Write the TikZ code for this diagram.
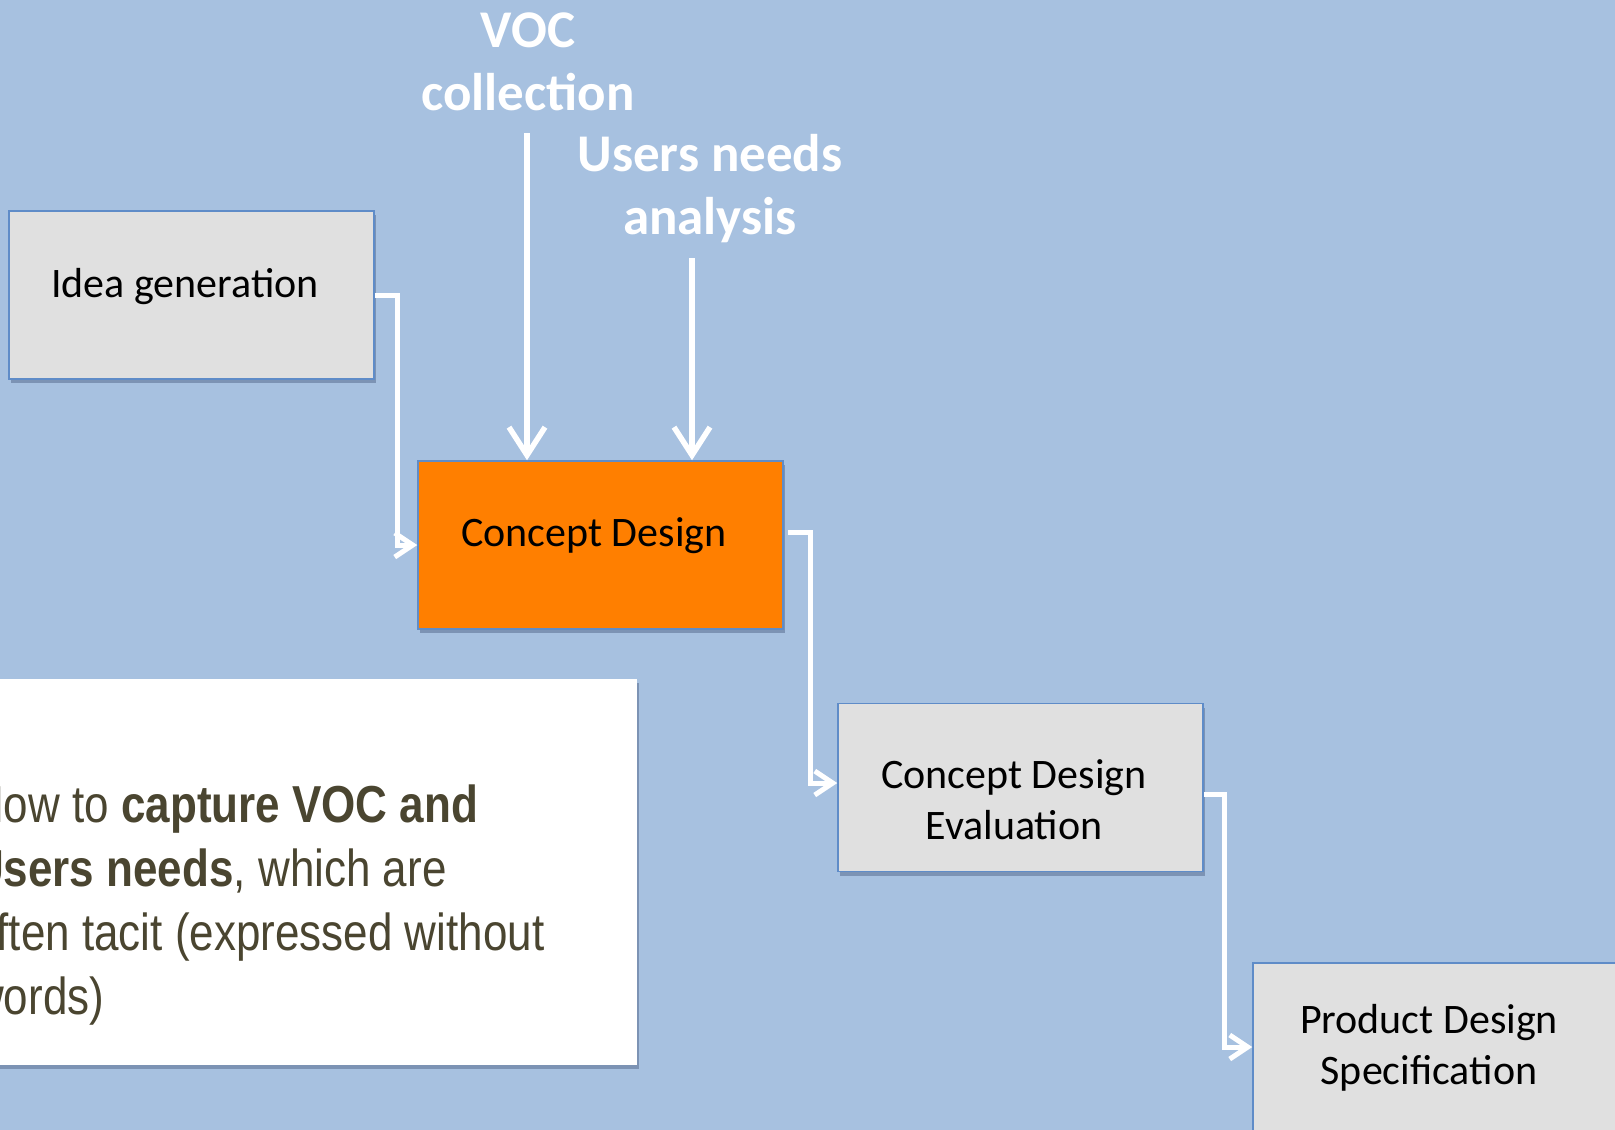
\documentclass[tikz,border=0pt]{standalone}
\usepackage{fontspec}
\setmainfont{Carlito}
\newfontfamily\narrowfont[FakeStretch=0.846]{Liberation Sans}
\usetikzlibrary{arrows.meta,shadows,calc}
\definecolor{bgblue}{RGB}{167,193,224}
\definecolor{boxgray}{RGB}{224,224,224}
\definecolor{boxline}{RGB}{95,140,200}
\definecolor{orangefill}{RGB}{255,127,0}
\definecolor{olivetext}{RGB}{74,69,48}
\definecolor{shadowblue}{RGB}{60,80,115}
\tikzset{
  stepbox/.style={draw=boxline, line width=1.5pt, minimum width=365pt, minimum height=168pt,
    inner sep=0pt, drop shadow={shadow xshift=1.5pt, shadow yshift=-4pt, opacity=0.4, fill=shadowblue}},
  graybox/.style={stepbox, fill=boxgray},
  orangebox/.style={stepbox, fill=orangefill},
  notebox/.style={fill=white, draw=none, minimum width=667pt, minimum height=386pt, inner sep=0pt,
    drop shadow={shadow xshift=1.5pt, shadow yshift=-4pt, opacity=0.4, fill=shadowblue}},
  boxtext/.style={font=\fontsize{42}{51}\selectfont, text=black, align=center, inner sep=0pt},
  headtext/.style={font=\fontsize{53}{63}\selectfont\bfseries, text=white, align=center, inner sep=0pt},
  notetext/.style={font=\narrowfont\fontsize{52}{64}\selectfont, text=olivetext, align=left, inner sep=0pt},
  conn/.style={draw=white, line width=5pt, -{Straight Barb[length=18pt,width=24pt]}},
  bigarrow/.style={draw=white, line width=5.5pt, -{Straight Barb[length=28pt,width=36pt]}}
}
\begin{document}
\begin{tikzpicture}[x=1pt,y=-1pt]
\useasboundingbox (0,0) rectangle (1615,1130);
\clip (0,0) rectangle (1615,1130);
\fill[bgblue] (0,0) rectangle (1615,1130);

% boxes
\node[graybox] (idea) at (191.5,295) {};
\node[orangebox] (cd) at (600.5,545) {};
\node[graybox] (eval) at (1020.5,787.5) {};
\node[graybox] (pds) at (1435.5,1047) {};
\node[notebox] (note) at (303.5,872) {};

% box texts
\node[boxtext] (ideatxt) at (185,287) {Idea generation};
\node[boxtext] (cdtxt) at (594,536) {Concept Design};
\node[boxtext] (evaltxt) at (1014,800) {Concept Design\\Evaluation};
\node[boxtext] (pdstxt) at (1429,1048) {Product Design\\Specification};

% headings
\node[headtext] (voc) at (528,61.5) {VOC\\collection};
\node[headtext] (users) at (710,188.5) {Users needs\\analysis};

% note text
\node[notetext, anchor=west] (notetxt) at (-28,905)
  {How to \textbf{capture VOC and}\\\textbf{Users needs}, which are\\often tacit (expressed without\\words)};

% input arrows
\coordinate (vocstart) at (527,133);
\coordinate (usrstart) at (692,258);
\draw[bigarrow] (vocstart) -- (vocstart |- cd.north);
\draw[bigarrow] (usrstart) -- (usrstart |- cd.north);

% flow connectors
\draw[conn] (idea.east) -- ++(23,0) |- (cd.west);
\draw[conn] ([xshift=4pt,yshift=13pt]cd.east) -- ++(23,0) |- ([yshift=4.5pt]eval.west);
\draw[conn] ([yshift=-7pt]eval.east) -- ++(21,0) |- (pds.west);
\end{tikzpicture}
\end{document}
